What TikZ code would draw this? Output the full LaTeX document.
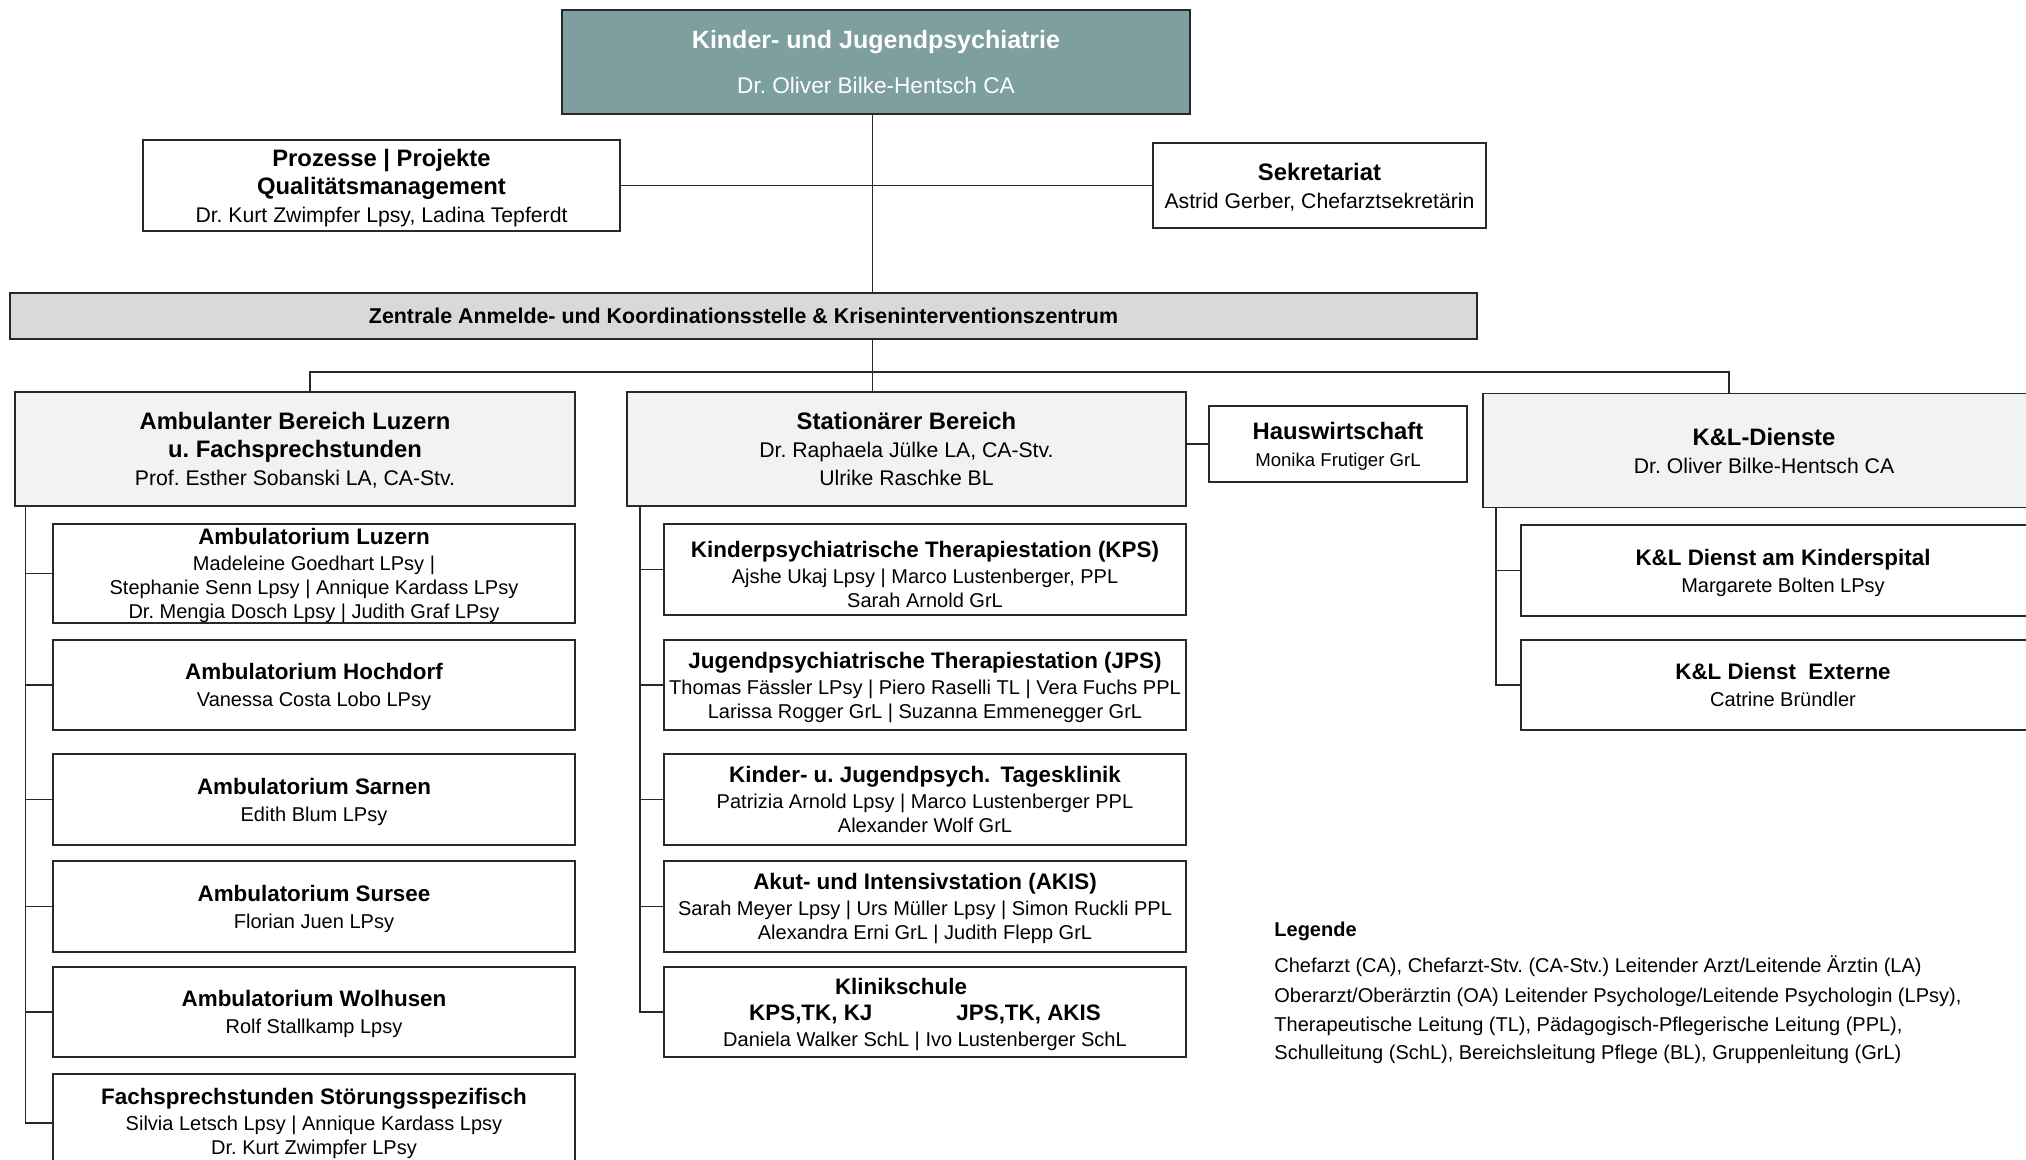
\documentclass[tikz,border=0pt]{standalone}
\usepackage{fontspec}
\setmainfont{Liberation Sans}
\AtBeginDocument{\frenchspacing}
\definecolor{topfill}{RGB}{126,159,160}
\definecolor{lightfill}{RGB}{242,242,242}
\definecolor{zenfill}{RGB}{217,217,217}
\definecolor{boxline}{RGB}{40,40,40}
\newcommand{\ttl}[1]{{\fontsize{11.9}{14}\selectfont\bfseries #1}}
\newcommand{\stl}[1]{{\fontsize{11.2}{13}\selectfont\bfseries #1}}
\begin{document}
\begin{tikzpicture}[x=0.5pt,y=-0.5pt,
  box/.style={draw=boxline, line width=0.8pt, inner sep=0pt, align=center, rectangle, text depth=-1.3pt},
  mainbox/.style={box, font=\fontsize{10.6}{14}\selectfont},
  subbox/.style={box, fill=white, minimum width=261pt, font=\fontsize{10}{12}\selectfont},
  conn/.style={draw=boxline, line width=0.6pt},
  legtext/.style={anchor=base west, inner sep=0pt, font=\fontsize{10}{12}\selectfont}]
\useasboundingbox (0,0) rectangle (2026,1160);
\clip (0,0) rectangle (2026,1160);
% top level
\node[mainbox, fill=topfill, text=white, minimum width=314pt, minimum height=52pt,
  font=\fontsize{11.3}{14}\selectfont] (top) at (876,62)
  {{\fontsize{12.5}{14}\selectfont\bfseries Kinder- und Jugendpsychiatrie}\\[8.5pt]Dr. Oliver Bilke-Hentsch CA};
\node[mainbox, fill=white, minimum width=238.5pt, minimum height=45.5pt] (proz) at (381.5,185.5)
  {\ttl{Prozesse | Projekte}\\\ttl{Qualitätsmanagement}\\Dr. Kurt Zwimpfer Lpsy, Ladina Tepferdt};
\node[mainbox, fill=white, minimum width=166.5pt, minimum height=42.5pt] (sek) at (1319.5,185.5)
  {\ttl{Sekretariat}\\Astrid Gerber, Chefarztsekretärin};
\node[mainbox, fill=zenfill, minimum width=733.5pt, minimum height=23pt,
  font=\fontsize{10.7}{13}\selectfont\bfseries] (zen) at (743.5,316)
  {Zentrale Anmelde- und Koordinationsstelle \& Kriseninterventionszentrum};
% second level
\node[mainbox, fill=lightfill, minimum width=280pt, minimum height=57pt] (amb) at (295,449)
  {\ttl{Ambulanter Bereich Luzern}\\\ttl{u. Fachsprechstunden}\\Prof. Esther Sobanski LA, CA-Stv.};
\node[mainbox, fill=lightfill, minimum width=279.5pt, minimum height=57pt] (stat) at (906.5,449)
  {\ttl{Stationärer Bereich}\\Dr. Raphaela Jülke LA, CA-Stv.\\Ulrike Raschke BL};
\node[mainbox, fill=white, minimum width=129pt, minimum height=38pt,
  font=\fontsize{9.3}{13.5}\selectfont] (haus) at (1338,444)
  {\ttl{Hauswirtschaft}\\Monika Frutiger GrL};
\node[mainbox, fill=lightfill, minimum width=281pt, minimum height=57pt] (kl) at (1764,450.5)
  {\ttl{K\&L-Dienste}\\Dr. Oliver Bilke-Hentsch CA};
% ambulant sub boxes
\node[subbox, minimum height=49.5pt] (a1) at (314,573.5)
  {\stl{Ambulatorium Luzern}\\[1pt]Madeleine Goedhart LPsy |\\Stephanie Senn Lpsy | Annique Kardass LPsy\\Dr. Mengia Dosch Lpsy | Judith Graf LPsy};
\node[subbox, minimum height=45pt] (a2) at (314,685)
  {\stl{Ambulatorium Hochdorf}\\[1.5pt]Vanessa Costa Lobo LPsy};
\node[subbox, minimum height=45.5pt] (a3) at (314,799.5)
  {\stl{Ambulatorium Sarnen}\\[1.5pt]Edith Blum LPsy};
\node[subbox, minimum height=45.5pt] (a4) at (314,906.5)
  {\stl{Ambulatorium Sursee}\\[1.5pt]Florian Juen LPsy};
\node[subbox, minimum height=45pt] (a5) at (314,1012)
  {\stl{Ambulatorium Wolhusen}\\[1.5pt]Rolf Stallkamp Lpsy};
\node[subbox, minimum height=49pt, text depth=1.5pt] (a6) at (314,1123)
  {\stl{Fachsprechstunden Störungsspezifisch}\\[1pt]Silvia Letsch Lpsy | Annique Kardass Lpsy\\Dr. Kurt Zwimpfer LPsy};
% stationary sub boxes
\node[subbox, minimum height=45.5pt] (s1) at (925,569.5)
  {\rule{0pt}{13.5pt}\stl{Kinderpsychiatrische Therapiestation (KPS)}\\[1pt]Ajshe Ukaj Lpsy | Marco Lustenberger, PPL\\Sarah Arnold GrL};
\node[subbox, minimum height=45pt] (s2) at (925,685)
  {\stl{Jugendpsychiatrische Therapiestation (JPS)}\\[1pt]Thomas Fässler LPsy | Piero Raselli TL | Vera Fuchs PPL\\Larissa Rogger GrL | Suzanna Emmenegger GrL};
\node[subbox, minimum height=45.5pt] (s3) at (925,799.5)
  {\stl{Kinder- u. Jugendpsych.\hspace{0.45em}Tagesklinik}\\[1pt]Patrizia Arnold Lpsy | Marco Lustenberger PPL\\Alexander Wolf GrL};
\node[subbox, minimum height=45.5pt] (s4) at (925,906.5)
  {\stl{Akut- und Intensivstation (AKIS)}\\[1pt]Sarah Meyer Lpsy | Urs Müller Lpsy | Simon Ruckli PPL\\Alexandra Erni GrL | Judith Flepp GrL};
\node[subbox, minimum height=45pt] (s5) at (925,1012)
  {\stl{Klinikschule}\hspace*{24pt}\\[1pt]\stl{KPS,TK, KJ}\hspace{42pt}\stl{JPS,TK, AKIS}\hspace*{16pt}\\[1pt]Daniela Walker SchL | Ivo Lustenberger SchL};
% K&L sub boxes
\node[subbox, minimum width=262pt, minimum height=45.5pt] (k1) at (1783,570.5)
  {\stl{K\&L Dienst am Kinderspital}\\[1.5pt]Margarete Bolten LPsy};
\node[subbox, minimum width=262pt, minimum height=45pt] (k2) at (1783,685)
  {\stl{K\&L Dienst\ \ Externe}\\[1.5pt]Catrine Bründler};
% connectors
\coordinate (spine) at (872.5,0);
\coordinate (busL) at (310,372);
\coordinate (busR) at (1729,372);
\draw[conn] (spine |- top.south) -- (spine |- zen.north);
\draw[conn] (proz.east) -- (sek.west);
\draw[conn] (spine |- zen.south) -- (spine |- stat.north);
\draw[conn] (busL |- amb.north) -- (busL) -- (busR) -- (busR |- kl.north);
\draw[conn] (haus.west) -- (haus.west -| stat.east);
\coordinate (as) at (25.7,0);
\draw[conn] (as |- amb.south) -- (as |- a6.west) -- (a6.west);
\foreach \n in {a1,a2,a3,a4,a5} \draw[conn] (as |- \n.west) -- (\n.west);
\coordinate (ss) at (640,0);
\draw[conn] (ss |- stat.south) -- (ss |- s5.west) -- (s5.west);
\foreach \n in {s1,s2,s3,s4} \draw[conn] (ss |- \n.west) -- (\n.west);
\coordinate (ks) at (1496,0);
\draw[conn] (ks |- kl.south) -- (ks |- k2.west) -- (k2.west);
\draw[conn] (ks |- k1.west) -- (k1.west);
% legend
\node[legtext, font=\fontsize{10}{12}\selectfont\bfseries] (lg0) at (1274,936) {Legende};
\node[legtext] (lg1) at (1274,972) {Chefarzt (CA), Chefarzt-Stv. (CA-Stv.) Leitender Arzt/Leitende Ärztin (LA)};
\node[legtext] (lg2) at (1274,1002) {Oberarzt/Oberärztin (OA) Leitender Psychologe/Leitende Psychologin (LPsy),};
\node[legtext] (lg3) at (1274,1031) {Therapeutische Leitung (TL), Pädagogisch-Pflegerische Leitung (PPL),};
\node[legtext] (lg4) at (1274,1059) {Schulleitung (SchL), Bereichsleitung Pflege (BL), Gruppenleitung (GrL)};
\end{tikzpicture}
\end{document}
